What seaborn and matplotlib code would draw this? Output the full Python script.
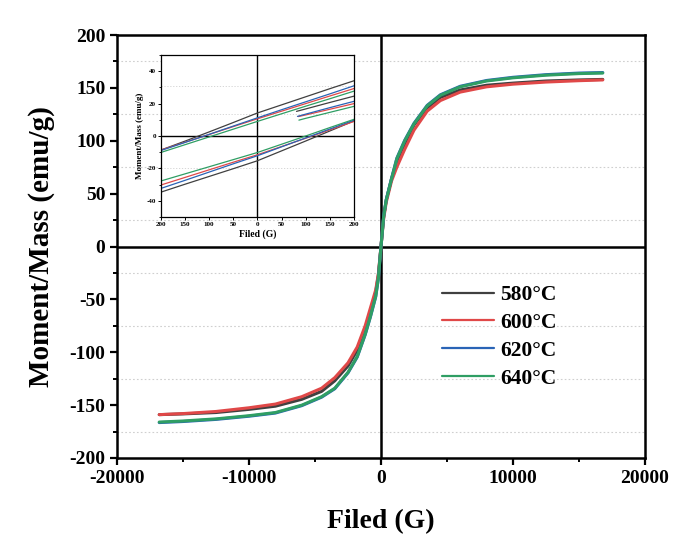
import numpy as np
import pandas as pd
import matplotlib
matplotlib.use("Agg")
import matplotlib.pyplot as plt
from matplotlib.ticker import MultipleLocator, FixedLocator
import seaborn as sns

# ---------------- data ----------------
samples = ["580\u00b0C", "600\u00b0C", "620\u00b0C", "640\u00b0C"]
colors = ["#404040", "#e04848", "#2a64b6", "#2f9e64"]

field_main = [-16800, -15000, -12500, -10000, -8000, -6000, -4500, -3500, -2500,
              -1800, -1200, -800, -400, -200, 0, 200, 400, 800, 1200, 1800,
              2500, 3500, 4500, 6000, 8000, 10000, 12500, 15000, 16800]

m_580 = [-159.0, -158.3, -157.0, -154.0, -151.0, -144.5, -137.0, -127.0, -113.0,
         -98.0, -79.0, -62.0, -43.0, -27.0, 0.0, 28.0, 44.0, 64.0, 80.0, 97.0,
         115.0, 131.0, 141.0, 148.0, 152.5, 154.5, 156.5, 157.5, 158.0]
m_600 = [-159.0, -158.0, -156.0, -152.5, -149.0, -142.0, -134.0, -124.0, -110.0,
         -95.0, -75.0, -58.0, -41.0, -26.0, 0.0, 26.0, 42.0, 62.0, 75.0, 92.0,
         110.0, 128.0, 138.0, 146.0, 151.0, 153.5, 155.5, 156.8, 157.5]
m_620 = [-166.5, -165.5, -163.5, -160.5, -157.5, -150.5, -142.5, -134.5, -119.5,
         -104.5, -83.5, -66.5, -47.5, -30.5, 0.0, 28.5, 44.5, 64.5, 83.5, 100.5,
         116.5, 133.5, 143.5, 151.5, 157.0, 160.0, 162.5, 164.0, 164.5]
m_640 = [-166.0, -165.0, -163.0, -160.0, -157.0, -150.0, -142.0, -134.0, -119.0,
         -104.0, -83.0, -66.0, -47.0, -30.0, 0.0, 28.0, 44.0, 64.0, 83.0, 100.0,
         116.0, 133.0, 143.0, 151.0, 156.5, 159.5, 162.0, 163.5, 164.0]

# inset (low field) loops
field_inset = [-200, -150, -100, -50, 0, 50, 100, 150, 200]
up_580 = [-8.7, -3.2, 2.5, 8.3, 14.2, 19.2, 24.2, 29.2, 34.1]
lo_580 = [-34.7, -29.8, -25.0, -20.2, -15.3, -9.2, -3.1, 3.1, 9.3]
up_600 = [-8.7, -3.9, 0.9, 5.8, 10.6, 15.3, 20.0, 24.7, 29.3]
lo_600 = [-30.3, -25.6, -20.9, -16.2, -11.6, -6.5, -1.4, 3.8, 9.0]
up_620 = [-9.0, -4.0, 1.0, 6.1, 11.2, 16.2, 21.1, 26.0, 31.0]
lo_620 = [-32.4, -27.4, -22.3, -17.2, -12.2, -6.7, -1.2, 4.3, 9.8]
up_640 = [-10.2, -5.4, -0.6, 4.2, 9.0, 13.7, 18.4, 23.0, 27.7]
lo_640 = [-27.8, -23.4, -19.0, -14.6, -10.2, -5.1, 0.0, 5.2, 10.3]

# initial magnetization segments
init_field_580 = [81, 100, 150, 200]
init_m_580 = [15.2, 16.7, 20.7, 24.6]
init_field_600 = [85, 100, 150, 200]
init_m_600 = [12.0, 13.0, 16.5, 20.0]
init_field_620 = [83, 100, 150, 200]
init_m_620 = [12.1, 13.5, 17.5, 21.4]
init_field_640 = [86, 100, 150, 200]
init_m_640 = [9.8, 10.9, 14.6, 18.3]

inset_xticklabels = ["200", "150", "100", "50", "0", "50", "100", "150", "200"]
inset_yticklabels = ["-40", "-20", "0", "20", "40"]

# ---------------- build frames ----------------
main_m = [m_580, m_600, m_620, m_640]
main_df = pd.concat([pd.DataFrame({"G": field_main, "M": m, "Sample": s})
                     for s, m in zip(samples, main_m)], ignore_index=True)

ups = [up_580, up_600, up_620, up_640]
los = [lo_580, lo_600, lo_620, lo_640]
inits = [(init_field_580, init_m_580), (init_field_600, init_m_600),
         (init_field_620, init_m_620), (init_field_640, init_m_640)]
frames = []
for s, u, l, (fi, mi) in zip(samples, ups, los, inits):
    frames.append(pd.DataFrame({"G": field_inset, "M": u, "Sample": s, "branch": "up"}))
    frames.append(pd.DataFrame({"G": field_inset, "M": l, "Sample": s, "branch": "low"}))
    frames.append(pd.DataFrame({"G": fi, "M": mi, "Sample": s, "branch": "init"}))
inset_df = pd.concat(frames, ignore_index=True)

# ---------------- style ----------------
sns.set_theme(style="ticks")
plt.rcParams["font.family"] = ["Liberation Serif", "DejaVu Serif"]
plt.rcParams["font.weight"] = "bold"
plt.rcParams["axes.labelweight"] = "bold"
plt.rcParams["axes.unicode_minus"] = False
plt.rcParams["text.color"] = "black"
plt.rcParams["axes.labelcolor"] = "black"
plt.rcParams["xtick.color"] = "black"
plt.rcParams["ytick.color"] = "black"

palette = dict(zip(samples, colors))

fig = plt.figure(figsize=(6.91, 5.46), dpi=100)
ax = fig.add_axes([117 / 691, 1 - 458 / 546, 528 / 691, 423 / 546])

sns.lineplot(data=main_df, x="G", y="M", hue="Sample", palette=palette,
             estimator=None, sort=False, linewidth=2.2, ax=ax, legend=True)

ax.set_xlim(-20000, 20000)
ax.set_ylim(-200, 200)
ax.axhline(0, color="black", lw=1.8, zorder=1)
ax.axvline(0, color="black", lw=1.8, zorder=1)
ax.xaxis.set_major_locator(MultipleLocator(10000))
ax.xaxis.set_minor_locator(MultipleLocator(5000))
ax.yaxis.set_major_locator(MultipleLocator(50))
ax.yaxis.set_minor_locator(MultipleLocator(25))
for yv in [-175, -125, -75, -25, 25, 75, 125, 175]:
    ax.axhline(yv, color="#cfcfcf", lw=0.8, ls=(0, (1.5, 2)), zorder=0)
for sp in ax.spines.values():
    sp.set_linewidth(1.8)
    sp.set_color("black")
ax.tick_params(axis="both", which="major", direction="out", length=5, width=1.6,
               labelsize=14, color="black", labelcolor="black")
ax.tick_params(axis="both", which="minor", direction="out", length=3, width=1.4,
               color="black")
for lab in ax.get_xticklabels() + ax.get_yticklabels():
    lab.set_fontweight("bold")
ax.set_xlabel("Filed (G)", fontsize=20, fontweight="bold", color="black")
ax.set_ylabel("Moment/Mass (emu/g)", fontsize=21, fontweight="bold", color="black")
ax.xaxis.set_label_coords(0.5, -0.121)
ax.yaxis.set_label_coords(-0.117, 0.5)

handles, labels = ax.get_legend_handles_labels()
for h in handles:
    h.set_linewidth(1.6)
ax.legend(handles, labels, frameon=False, loc="upper left",
          bbox_to_anchor=(442 / 691, 1 - 285 / 546), bbox_transform=fig.transFigure,
          prop={"family": "Liberation Serif", "weight": "bold", "size": 15.5},
          handlelength=2.4, handletextpad=0.3, labelspacing=0.36, borderpad=0.0,
          borderaxespad=0.0)

# ---------------- inset ----------------
ins = fig.add_axes([160.7 / 691, 1 - 217 / 546, 193.3 / 691, 162 / 546])
sns.lineplot(data=inset_df, x="G", y="M", hue="Sample", units="branch",
             palette=palette, estimator=None, sort=False, linewidth=0.9,
             ax=ins, legend=False)
ins.set_xlim(-200, 200)
ins.set_ylim(-50, 50)
ins.axhline(0, color="black", lw=1.0, zorder=1)
ins.axvline(0, color="black", lw=1.0, zorder=1)
for yv in [31, 13.5, -19.5]:
    ins.axhline(yv, color="#d0d0d0", lw=0.6, ls=(0, (1.5, 2)), zorder=0)
ins.xaxis.set_major_locator(FixedLocator(field_inset))
ins.set_xticklabels(inset_xticklabels)
ins.yaxis.set_major_locator(FixedLocator([-40, -20, 0, 20, 40]))
ins.set_yticklabels(inset_yticklabels)
ins.yaxis.set_minor_locator(MultipleLocator(10))
for sp in ins.spines.values():
    sp.set_linewidth(0.9)
    sp.set_color("black")
ins.tick_params(axis="both", which="major", direction="out", length=2, width=0.7,
                labelsize=5, pad=1.5, color="black")
ins.tick_params(axis="both", which="minor", direction="out", length=1.2, width=0.6)
for lab in ins.get_xticklabels() + ins.get_yticklabels():
    lab.set_fontweight("bold")
ins.set_xlabel("Filed (G)", fontsize=7, fontweight="bold", labelpad=2)
ins.set_ylabel("Moment/Mass (emu/g)", fontsize=6.5, fontweight="bold", labelpad=2)

fig.savefig("out.png", dpi=100, facecolor="white")
